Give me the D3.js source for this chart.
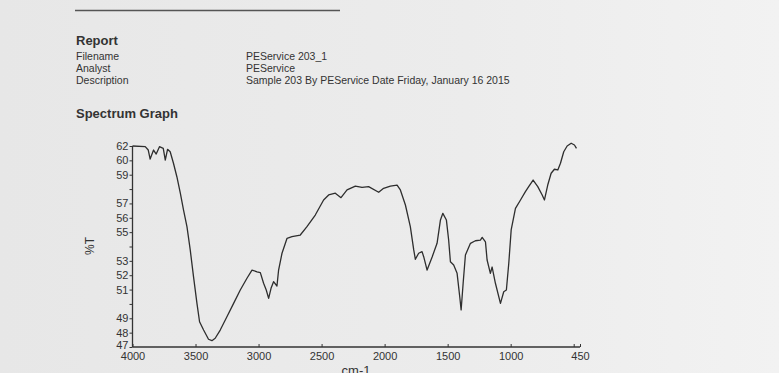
<!DOCTYPE html>
<html>
<head>
<meta charset="utf-8">
<script src="https://cdn.jsdelivr.net/npm/d3@7"></script>
<style>
  html, body { margin: 0; padding: 0; background: #ececec; }
  svg { display: block; font-family: 'Liberation Sans', Arial, sans-serif; }
</style>
</head>
<body>
<svg class="chart"></svg>
<script>
// header fields of the report
const fieldNames = ['Filename', 'Analyst', 'Description']
const fieldValues = ['PEService 203_1', 'PEService', 'Sample 203 By PEService Date Friday, January 16 2015']

// wavenumber (cm-1) and %T
const wavenumber = [
  4000, 3899, 3875, 3860, 3833, 3812, 3786, 3756, 3740, 3722,
  3701, 3675, 3648, 3621, 3595, 3568, 3542, 3516, 3489, 3468,
  3436, 3397, 3370, 3344, 3304, 3251, 3198, 3145, 3092, 3052,
  3012, 2986, 2960, 2939, 2920, 2901, 2881, 2854, 2841, 2814,
  2774, 2735, 2669, 2616, 2550, 2484, 2444, 2391, 2346, 2298,
  2232, 2179, 2127, 2047, 2008, 1954, 1901, 1875, 1835, 1796,
  1769, 1756, 1730, 1703, 1690, 1663, 1623, 1584, 1557, 1538,
  1510, 1492, 1478, 1452, 1425, 1404, 1393, 1377, 1359, 1319,
  1280, 1240, 1226, 1200, 1187, 1161, 1147, 1121, 1081, 1055,
  1034, 1015, 996, 962, 922, 883, 857, 822, 785, 750,
  732, 706, 679, 653, 626, 605, 579, 552, 520, 494, 478
]
const transmittance = [
  61.00, 60.96, 60.72, 60.09, 60.72, 60.44, 60.95, 60.84, 60.02, 60.77,
  60.60, 59.80, 58.86, 57.73, 56.54, 55.38, 53.76, 51.90, 50.06, 48.76,
  48.18, 47.54, 47.44, 47.61, 48.18, 49.11, 50.04, 50.97, 51.79, 52.36,
  52.24, 52.18, 51.44, 50.97, 50.39, 51.09, 51.55, 51.25, 52.36, 53.53,
  54.57, 54.68, 54.80, 55.38, 56.19, 57.24, 57.59, 57.71, 57.40, 57.94,
  58.21, 58.12, 58.17, 57.78, 58.05, 58.21, 58.28, 57.94, 56.89, 55.38,
  53.76, 53.11, 53.53, 53.64, 53.29, 52.36, 53.27, 54.22, 55.85, 56.31,
  55.85, 54.45, 52.94, 52.71, 52.13, 50.50, 49.58, 51.44, 53.41, 54.22,
  54.40, 54.45, 54.64, 54.33, 53.06, 52.13, 52.57, 51.44, 50.04, 50.85,
  50.97, 52.83, 55.15, 56.66, 57.24, 57.82, 58.17, 58.63, 58.17, 57.59,
  57.24, 58.28, 59.10, 59.38, 59.33, 59.80, 60.60, 61.00, 61.19, 61.07, 60.84
]

// axis ticks as printed
const xTicks = [4000, 3500, 3000, 2500, 2000, 1500, 1000, 500, 450]
const xTickLabels = ['4000', '3500', '3000', '2500', '2000', '1500', '1000', '', '450']
const yTicks = [47, 48, 49, 50, 51, 52, 53, 54, 55, 56, 57, 58, 59, 60, 61]
const yTickLabels = ['47', '48', '49', '', '51', '52', '53', '', '55', '56', '57', '', '59', '60', '62']

const ink = '#333'

const svg = d3.select('.chart')
  .attr('width', 779)
  .attr('height', 373)

// paper
const grad = svg.append('defs').append('linearGradient')
  .attr('id', 'paper')
  .attr('x1', '0').attr('x2', '1').attr('y1', '0').attr('y2', '0')
grad.append('stop').attr('offset', '0').attr('stop-color', '#e7e7e7')
grad.append('stop').attr('offset', '0.6').attr('stop-color', '#ececec')
grad.append('stop').attr('offset', '1').attr('stop-color', '#f2f2f2')
svg.append('rect').attr('width', 779).attr('height', 373).attr('fill', 'url(#paper)')

svg.append('line')
  .attr('x1', 75).attr('x2', 340).attr('y1', 10.5).attr('y2', 10.5)
  .attr('stroke', '#555').attr('stroke-width', 1.6)

// header
const header = svg.append('g').attr('fill', ink)
header.append('text')
  .attr('x', 76).attr('y', 45)
  .style('font-size', '13px').style('font-weight', 'bold')
  .text('Report')

header.selectAll('.fname')
  .data(fieldNames)
  .enter()
  .append('text')
  .attr('x', 76)
  .attr('y', (d, i) => 60 + i * 12)
  .style('font-size', '10.5px')
  .text(d => d)

header.selectAll('.fval')
  .data(fieldValues)
  .enter()
  .append('text')
  .attr('x', 246)
  .attr('y', (d, i) => 60 + i * 12)
  .style('font-size', '10.5px')
  .text(d => d)

header.append('text')
  .attr('x', 76).attr('y', 118)
  .style('font-size', '13px').style('font-weight', 'bold')
  .text('Spectrum Graph')

// plot
const x = d3.scaleLinear()
  .domain([4000, 450])
  .range([132.5, 580])

const y = d3.scaleLinear()
  .domain([47, 61])
  .range([347, 146])

const xAxis = d3.axisBottom(x)
  .tickValues(xTicks)
  .tickSize(-3)
  .tickPadding(5)
  .tickFormat((d, i) => xTickLabels[i])

const yAxis = d3.axisLeft(y)
  .tickValues(yTicks)
  .tickSize(3)
  .tickPadding(1)
  .tickFormat((d, i) => yTickLabels[i])

const gx = svg.append('g')
  .attr('transform', `translate(0, ${y(47)})`)
  .call(xAxis)

const gy = svg.append('g')
  .attr('transform', `translate(${x(4000)}, 0)`)
  .call(yAxis)

for (const g of [gx, gy]) {
  g.select('.domain').attr('stroke', ink).attr('stroke-width', 1.3)
  g.selectAll('.tick line').attr('stroke', ink)
  g.selectAll('.tick text')
    .attr('fill', ink)
    .style('font-size', '11px')
    .style('font-family', "'Liberation Sans', Arial, sans-serif")
}
gx.select('.domain').attr('d', `M${x(4000)},0H${x(450)}`)
gy.select('.domain').attr('d', `M0,${y(61)}V${y(47)}`)
// lowest y label sits a little high on the print
gy.selectAll('.tick text').filter(d => d === 47).attr('dy', '0.1em')

svg.append('text')
  .attr('transform', `translate(94, 246) rotate(-90)`)
  .attr('text-anchor', 'middle')
  .attr('fill', ink)
  .style('font-size', '12px')
  .text('%T')

svg.append('text')
  .attr('x', 356).attr('y', 375)
  .attr('text-anchor', 'middle')
  .attr('fill', ink)
  .style('font-size', '13px')
  .text('cm-1')

const line = d3.line()
  .x(d => x(d[0]))
  .y(d => y(d[1]))

svg.append('path')
  .datum(d3.zip(wavenumber, transmittance))
  .attr('fill', 'none')
  .attr('stroke', '#2e2e2e')
  .attr('stroke-width', 1.3)
  .attr('stroke-linejoin', 'round')
  .attr('d', line)
</script>
</body>
</html>
